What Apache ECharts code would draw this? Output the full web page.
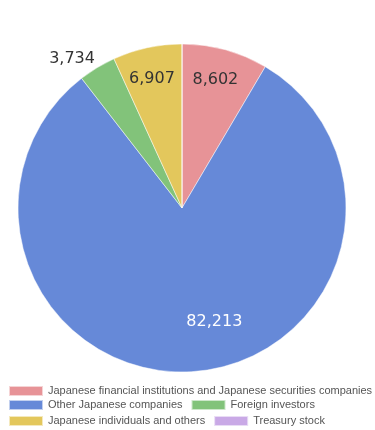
<!DOCTYPE html>
<html>
<head>
<meta charset="utf-8">
<script src="https://cdn.jsdelivr.net/npm/echarts@6/dist/echarts.min.js"></script>
<style>html,body{margin:0;padding:0;background:#fff;overflow:hidden}#c{width:375px;height:430px}</style>
</head>
<body>
<div id="c"></div>
<script>
const categories = [
  'Japanese financial institutions and Japanese securities companies',
  'Other Japanese companies',
  'Foreign investors',
  'Japanese individuals and others',
  'Treasury stock'
];
const values = [8602, 82213, 3734, 6907, 0];
const colors = ['#e79397', '#6689d8', '#82c37a', '#e3c75c', '#c9a9e6'];
const labelColors = ['#333', '#fff', '#333', '#333', '#333'];
const labelOffsets = [[11, -46], [27, 29], [-66, -76], [-12, -46], [0, 0]];

const chart = echarts.init(document.getElementById('c'), null, {renderer: 'canvas'});
const legendBase = {
  left: 8,
  orient: 'horizontal',
  itemWidth: 34,
  itemHeight: 10,
  itemGap: 8,
  icon: 'rect',
  textStyle: {fontFamily: 'Liberation Sans, Arial, sans-serif', fontSize: 11, color: '#555', padding: [0, 0, 0, 0]},
  padding: 0
};
const option = {
  animation: false,
  color: colors,
  legend: [
    Object.assign({}, legendBase, {top: 385, data: [categories[0]]}),
    Object.assign({}, legendBase, {top: 399, data: [categories[1], categories[2]]}),
    Object.assign({}, legendBase, {top: 415, data: [categories[3], categories[4]]})
  ],
  series: [{
    type: 'pie',
    center: [182, 208],
    radius: [0, 164],
    startAngle: 90,
    clockwise: true,
    avoidLabelOverlap: false,
    itemStyle: {borderColor: 'rgba(255,255,255,0.6)', borderWidth: 0.8},
    labelLine: {show: false},
    label: {
      show: true,
      position: 'inside',
      fontFamily: 'DejaVu Sans, sans-serif',
      fontSize: 16,
      formatter: p => p.value.toLocaleString('en-US')
    },
    data: categories.map((n, i) => ({
      name: n,
      value: values[i],
      label: {show: values[i] > 0, color: labelColors[i], offset: labelOffsets[i]}
    }))
  }]
};
chart.setOption(option);
</script>
</body>
</html>
